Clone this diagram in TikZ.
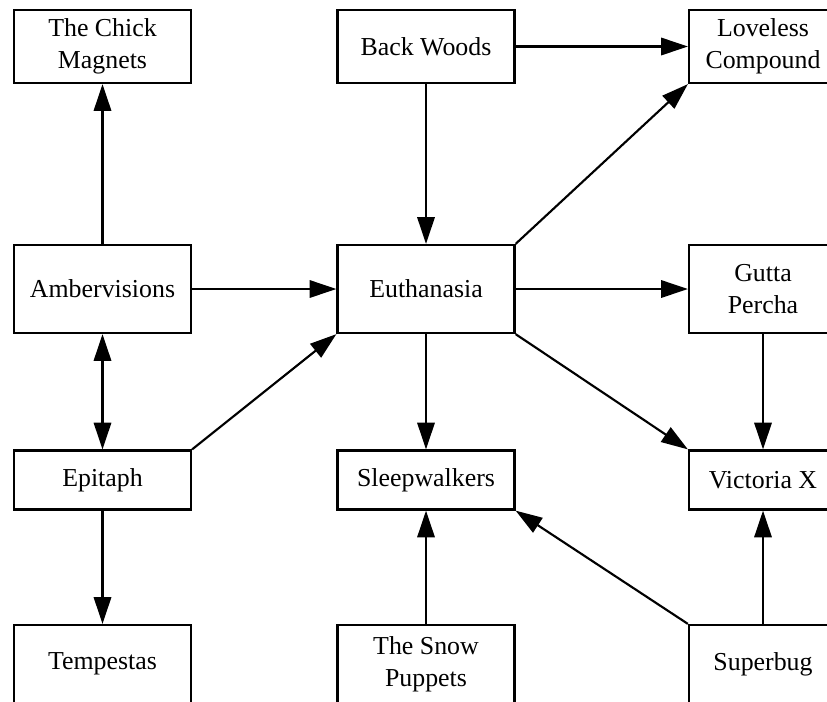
\documentclass[tikz,border=0pt]{standalone}
\usepackage{fontspec}
\setmainfont{Liberation Serif}
\usetikzlibrary{arrows.meta}

\begin{document}
\begin{tikzpicture}[>={Triangle[length=20pt,width=13pt]}, x=0.75pt, y=-0.75pt,
  font=\fontsize{19.4}{24}\selectfont,
  band/.style={draw, line width=1.7pt, align=center, inner sep=0pt, minimum width=132.75pt},
  narrow/.style={band, minimum width=111pt},
  link/.style={->, line width=1.6pt}]

\useasboundingbox (0,0) rectangle (827,701);

% first row
\node[band, minimum height=54.75pt] (chick) at (102.5, 46.5) {The Chick\\Magnets};
\node[band, minimum height=54.75pt] (backwoods) at (426, 46.5) {Back Woods};
\node[narrow, minimum height=54.75pt] (loveless) at (763, 46.5) {Loveless\\Compound};

% second row
\node[band, minimum height=66pt] (amber) at (102.5, 289) {Ambervisions};
\node[band, minimum height=66pt] (euth) at (426, 289) {Euthanasia};
\node[narrow, minimum height=66pt] (gutta) at (763, 289) {Gutta\\Percha};

% third row
\node[band, minimum height=44.25pt] (epitaph) at (102.5, 480) {Epitaph};
\node[band, minimum height=44.25pt] (sleep) at (426, 480) {Sleepwalkers};
\node[narrow, minimum height=44.25pt] (victoria) at (763, 480) {Victoria X};

% last row
\node[band, minimum height=58.5pt] (tempestas) at (102.5, 664) {Tempestas};
\node[band, minimum height=58.5pt] (snow) at (426, 664) {The Snow\\Puppets};
\node[narrow, minimum height=58.5pt] (superbug) at (763, 664) {Superbug};

\draw[link] (amber) -- (chick);
\draw[link] (backwoods) -- (loveless);
\draw[link] (backwoods) -- (euth);
\draw[link] (euth.north east) -- (loveless.south west);
\draw[link] (amber) -- (euth);
\draw[link] (euth) -- (gutta);
\draw[link, <->] (amber) -- (epitaph);
\draw[link] (epitaph.north east) -- (euth.south west);
\draw[link] (euth) -- (sleep);
\draw[link] (euth.south east) -- (victoria.north west);
\draw[link] (gutta) -- (victoria);
\draw[link] (epitaph) -- (tempestas);
\draw[link] (snow) -- (sleep);
\draw[link] (superbug.north west) -- (sleep.south east);
\draw[link] (superbug) -- (victoria);

\end{tikzpicture}
\end{document}
